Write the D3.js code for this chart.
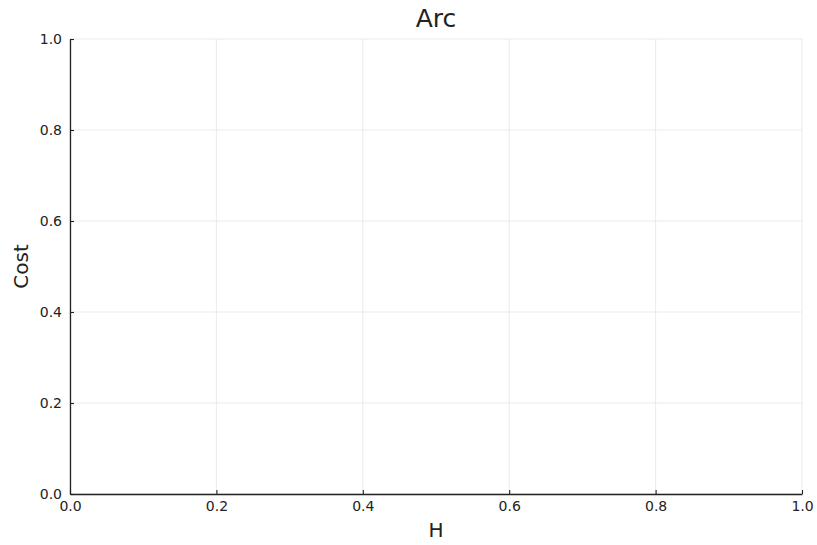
<!DOCTYPE html>
<html><head><meta charset="utf-8">
<script src="https://cdn.jsdelivr.net/npm/d3@7"></script>
<style>body{margin:0;background:#fff}svg{display:block}text{font-family:"DejaVu Sans",sans-serif;fill:#222}</style>
</head><body>
<script>
const xTicks = [0, 0.2, 0.4, 0.6, 0.8, 1.0];
const yTicks = [0, 0.2, 0.4, 0.6, 0.8, 1.0];
const xDomain = [0, 1];
const yDomain = [0, 1];
const W = 817, H = 545;
const m = {l:70, r:15, t:39, b:51};
const svg = d3.select("body").append("svg").attr("width", W).attr("height", H);
const x = d3.scaleLinear().domain(xDomain).range([m.l, W - m.r]);
const y = d3.scaleLinear().domain(yDomain).range([H - m.b, m.t]);
// grid
svg.append("g").selectAll("line").data(xTicks).join("line")
  .attr("x1", d=>x(d)).attr("x2", d=>x(d)).attr("y1", y(1)).attr("y2", y(0))
  .attr("stroke", "#e6e6e6").attr("stroke-width", 0.8);
svg.append("g").selectAll("line").data(yTicks).join("line")
  .attr("y1", d=>y(d)).attr("y2", d=>y(d)).attr("x1", x(0)).attr("x2", x(1))
  .attr("stroke", "#e6e6e6").attr("stroke-width", 0.8);
// axes
const xa = svg.append("g").attr("transform", `translate(0,${y(0)})`)
  .call(d3.axisBottom(x).tickValues(xTicks).tickFormat(d3.format(".1f")).tickSizeInner(-4).tickSizeOuter(0).tickPadding(7));
const ya = svg.append("g").attr("transform", `translate(${x(0)},0)`)
  .call(d3.axisLeft(y).tickValues(yTicks).tickFormat(d3.format(".1f")).tickSizeInner(-4).tickSizeOuter(0).tickPadding(8));
[xa, ya].forEach(g => {
  g.select(".domain").attr("stroke", "#222").attr("stroke-width", 1.3);
  g.selectAll(".tick line").attr("stroke", "#222").attr("stroke-width", 1.1);
  g.selectAll(".tick text").attr("font-size", 14).attr("fill", "#333").style("font-family", "DejaVu Sans");
});
// title & labels
svg.append("text").attr("x", (x(0)+x(1))/2).attr("y", 27).attr("text-anchor", "middle").attr("font-size", 25).text("Arc");
svg.append("text").attr("x", (x(0)+x(1))/2).attr("y", 537).attr("text-anchor", "middle").attr("font-size", 20).text("H");
svg.append("text").attr("transform", `translate(27.5,${(y(0)+y(1))/2}) rotate(-90)`).attr("text-anchor", "middle").attr("font-size", 20).text("Cost");
</script>
</body></html>
